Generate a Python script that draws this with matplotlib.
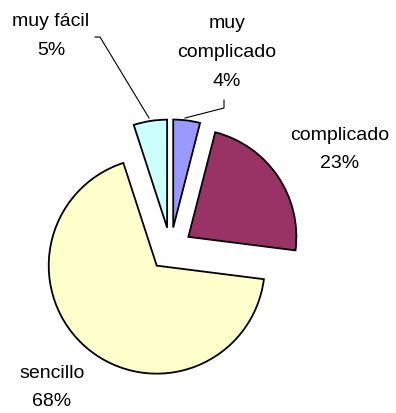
import matplotlib.pyplot as plt

categorias = ['muy complicado', 'complicado', 'sencillo', 'muy fácil']
porcentajes = [4, 23, 68, 5]
colores = ['#9999FF', '#993366', '#FFFFCC', '#CCFFFF']

# label lines (one text per line, in pixel coords measured from the top)
etiquetas = [['muy', 'complicado', '4%'], ['complicado', '23%'],
             ['sencillo', '68%'], ['muy fácil', '5%']]
pos_etiquetas = [(227, 24), (340, 135), (52, 373), (51, 22)]

W, H = 396, 413
R = 108
fig = plt.figure(figsize=(W / 100, H / 100), dpi=100)
ax = fig.add_axes([0, 0, 1, 1])

# explode is in data units here (radius is not 1)
ax.pie(porcentajes, colors=colores, startangle=90, counterclock=False,
       radius=R, center=(170.5, H - 249), explode=[0.2 * R] * 4,
       wedgeprops=dict(edgecolor='black', linewidth=1.3))

plt.rcParams['font.family'] = ['Liberation Sans', 'DejaVu Sans']
for lineas, (x, y) in zip(etiquetas, pos_etiquetas):
    for i, t in enumerate(lineas):
        ax.text(x, H - (y + 28.5 * i), t, ha='center', va='center',
                fontsize=14, color='black')

# leader lines
ax.plot([95, 100, 149], [H - 37, H - 37, H - 118], color='black', lw=0.8)
ax.plot([224, 224, 185], [H - 100, H - 108, H - 118], color='black', lw=0.8)

ax.set_xlim(0, W)
ax.set_ylim(0, H)
ax.set_aspect('auto')
ax.axis('off')
fig.savefig('out.png', dpi=100)
